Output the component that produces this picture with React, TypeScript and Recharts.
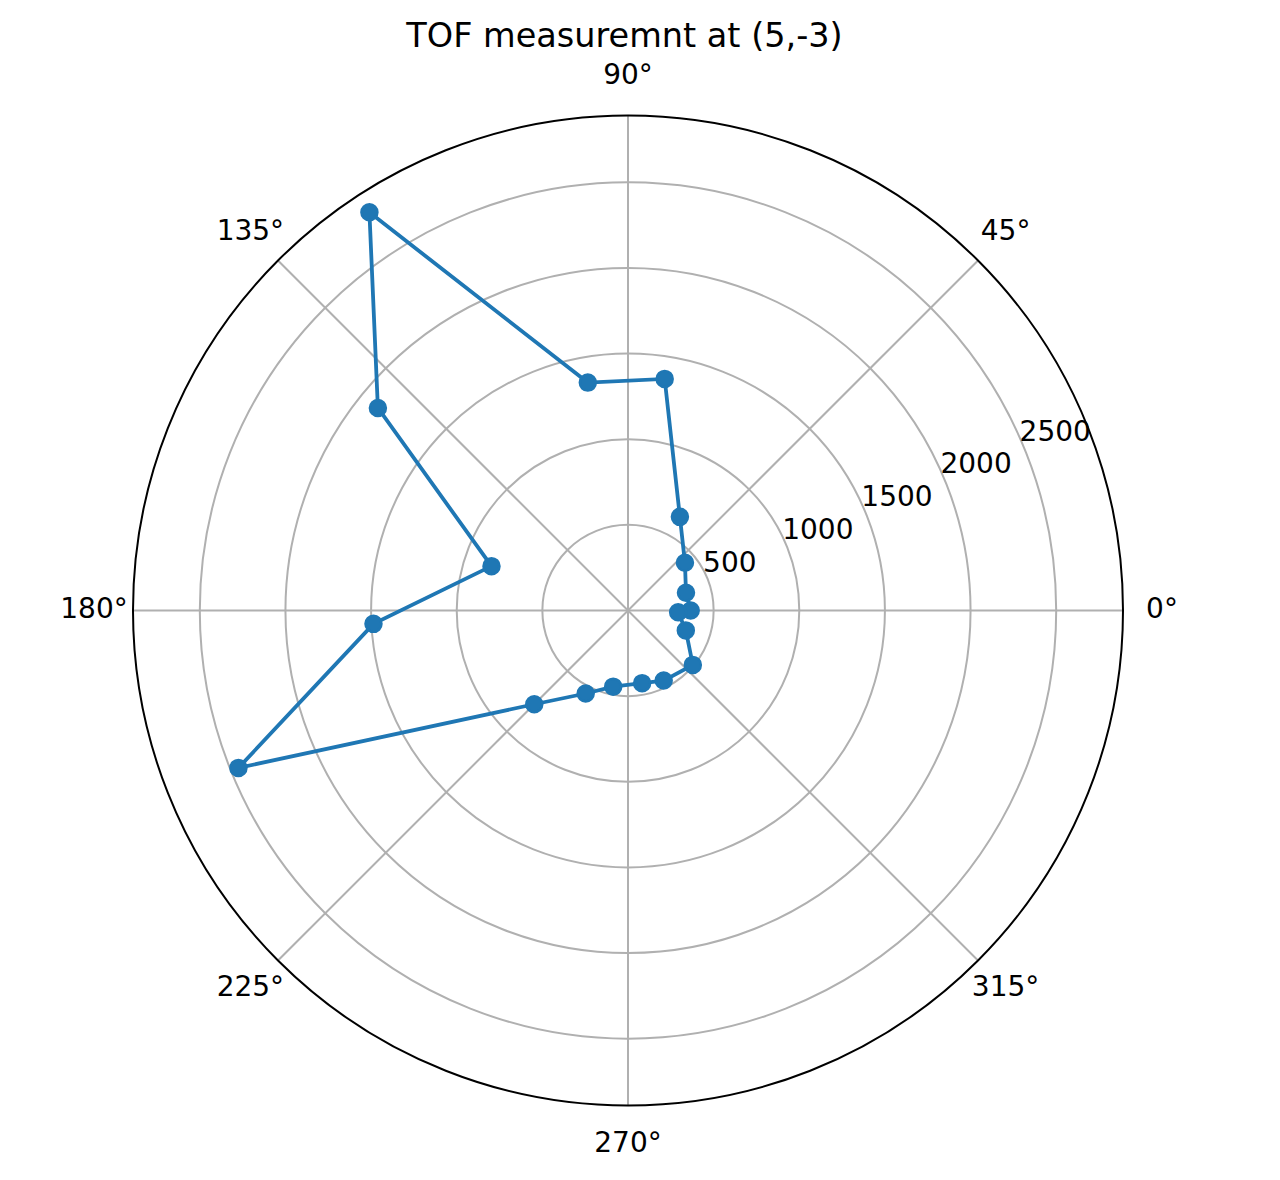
import React from "react";
import {
  RadarChart,
  Radar,
  PolarGrid,
  PolarAngleAxis,
  PolarRadiusAxis,
} from "recharts";

// measurement angle (deg) and time-of-flight reading
const angles = [0, 17, 40, 61, 81, 100, 123, 141, 162, 183, 202, 225, 243, 259, 281, 297, 320, 341, 358];
const tofValues = [366, 354, 434, 625, 1369, 1351, 2772, 1879, 838, 1488, 2453, 774, 544, 453, 432, 459, 494, 357, 293];

const angleTicks = [0, 45, 90, 135, 180, 225, 270, 315];
const radiusTicks = [500, 1000, 1500, 2000, 2500];

const title = "TOF measuremnt at (5,-3)";

const data = angles.map((a, i) => ({ angle: a, tof: tofValues[i] }));

const FONT = "'DejaVu Sans', sans-serif";

function AngleTick(props: any) {
  const { x, y, payload } = props;
  if (payload.value >= 360) return <g />;
  return (
    <text x={x} y={y + 7.5} textAnchor="middle" fontSize={28} fill="#000" fontFamily={FONT}>
      {`${payload.value}°`}
    </text>
  );
}

function RadiusTick(props: any) {
  const { x, y, payload } = props;
  return (
    <text x={x - 4} y={y - 6} textAnchor="start" fontSize={28} fill="#000" fontFamily={FONT}>
      {payload.value}
    </text>
  );
}

export default function App() {
  return (
    <div
      style={{
        position: "absolute",
        left: 0,
        top: 0,
        width: 1280,
        height: 1180,
        background: "#fff",
        fontFamily: FONT,
      }}
    >
      <div
        style={{
          position: "absolute",
          left: 0,
          top: 19,
          width: 1249,
          textAlign: "center",
          fontSize: 33.5,
          lineHeight: "33.5px",
          color: "#000",
          whiteSpace: "nowrap",
        }}
      >
        {title}
      </div>
      <div style={{ position: "absolute", left: 0, top: 0 }}>
        <RadarChart
          width={1280}
          height={1180}
          data={data}
          cx={628}
          cy={610.5}
          innerRadius={0}
          outerRadius={495}
          startAngle={0}
          endAngle={360}
          margin={{ top: 0, right: 0, bottom: 0, left: 0 }}
        >
          <PolarGrid gridType="circle" stroke="#b0b0b0" strokeWidth={2} />
          <PolarAngleAxis
            dataKey="angle"
            type="number"
            domain={[0, 360]}
            ticks={angleTicks}
            tickCount={9}
            axisLineType="circle"
            axisLine={{ stroke: "#000", strokeWidth: 2 }}
            tickLine={false}
            tickSize={39}
            tick={AngleTick}
          />
          <PolarRadiusAxis
            type="number"
            domain={[0, 2890]}
            ticks={radiusTicks}
            angle={22.5}
            axisLine={false}
            tickLine={false}
            tick={RadiusTick}
          />
          <Radar
            dataKey="tof"
            stroke="#1f77b4"
            strokeWidth={3.8}
            fill="none"
            fillOpacity={0}
            dot={{ r: 8, fill: "#1f77b4", stroke: "#1f77b4", strokeWidth: 2.5, fillOpacity: 1 }}
            isAnimationActive={false}
          />
        </RadarChart>
      </div>
    </div>
  );
}
